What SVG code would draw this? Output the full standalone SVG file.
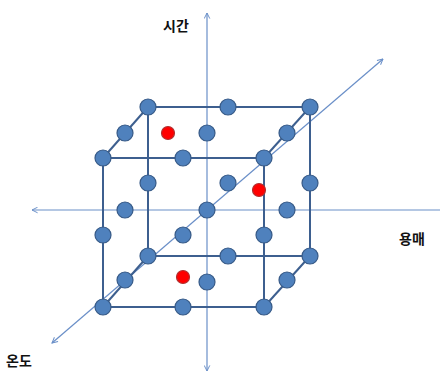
<svg xmlns="http://www.w3.org/2000/svg" width="440" height="372" viewBox="0 0 440 372">
<defs>
<style>
.axis{stroke:#6a8fc8;stroke-width:1.2;fill:none}
.edge{stroke:#3d5f8f;stroke-width:2;fill:none}
.pt{fill:#4f81bd;stroke:#375a87;stroke-width:1.2}
.red{fill:#ff0000;stroke:#b03030;stroke-width:1.2}
.lbl{font-family:"Noto Sans CJK KR","Noto Sans",sans-serif;font-weight:bold;font-size:14px;fill:#111}
</style>
<marker id="arr" viewBox="0 0 10 10" refX="9" refY="5" markerWidth="7" markerHeight="7" orient="auto-start-reverse" markerUnits="userSpaceOnUse">
<path d="M1,1 L9,5 L1,9" fill="none" stroke="#6a8fc8" stroke-width="1.4"/>
</marker>
</defs>
<rect width="440" height="372" fill="#ffffff"/>
<g id="axes">
<line class="axis" x1="207" y1="371" x2="207" y2="13" marker-start="url(#arr)" marker-end="url(#arr)"/>
<line class="axis" x1="445" y1="210" x2="32" y2="210" marker-end="url(#arr)"/>
<line class="axis" x1="52" y1="343" x2="383" y2="59" marker-start="url(#arr)" marker-end="url(#arr)"/>
</g>
<g id="edges">
<rect class="edge" x="148" y="107" width="162" height="149"/>
<rect class="edge" x="103" y="158" width="161" height="149"/>
<line class="edge" x1="148" y1="107" x2="103" y2="158"/>
<line class="edge" x1="310" y1="107" x2="264" y2="158"/>
<line class="edge" x1="148" y1="256" x2="103" y2="307"/>
<line class="edge" x1="310" y1="256" x2="264" y2="307"/>
</g>
<g id="points">
<circle class="pt" cx="148" cy="107" r="8"/>
<circle class="pt" cx="228" cy="107" r="8"/>
<circle class="pt" cx="310" cy="107" r="8"/>
<circle class="pt" cx="125" cy="133" r="8"/>
<circle class="pt" cx="207" cy="133" r="8"/>
<circle class="pt" cx="287" cy="133" r="8"/>
<circle class="pt" cx="103" cy="158" r="8"/>
<circle class="pt" cx="183" cy="158" r="8"/>
<circle class="pt" cx="264" cy="158" r="8"/>
<circle class="pt" cx="148" cy="183" r="8"/>
<circle class="pt" cx="228" cy="183" r="8"/>
<circle class="pt" cx="310" cy="183" r="8"/>
<circle class="pt" cx="125" cy="210" r="8"/>
<circle class="pt" cx="207" cy="210" r="8"/>
<circle class="pt" cx="287" cy="210" r="8"/>
<circle class="pt" cx="103" cy="235" r="8"/>
<circle class="pt" cx="183" cy="235" r="8"/>
<circle class="pt" cx="264" cy="235" r="8"/>
<circle class="pt" cx="148" cy="256" r="8"/>
<circle class="pt" cx="228" cy="256" r="8"/>
<circle class="pt" cx="310" cy="256" r="8"/>
<circle class="pt" cx="125" cy="280" r="8"/>
<circle class="pt" cx="207" cy="282" r="8"/>
<circle class="pt" cx="287" cy="280" r="8"/>
<circle class="pt" cx="103" cy="307" r="8"/>
<circle class="pt" cx="183" cy="307" r="8"/>
<circle class="pt" cx="264" cy="307" r="8"/>
</g>
<g id="red-points">
<circle class="red" cx="168" cy="133" r="6.5"/>
<circle class="red" cx="259" cy="190" r="6.5"/>
<circle class="red" cx="183" cy="277" r="6.5"/>
</g>
<g id="labels">
<text class="lbl" x="163" y="31">시간</text>
<text class="lbl" x="399" y="244">용매</text>
<text class="lbl" x="6" y="366">온도</text>
</g>
</svg>
